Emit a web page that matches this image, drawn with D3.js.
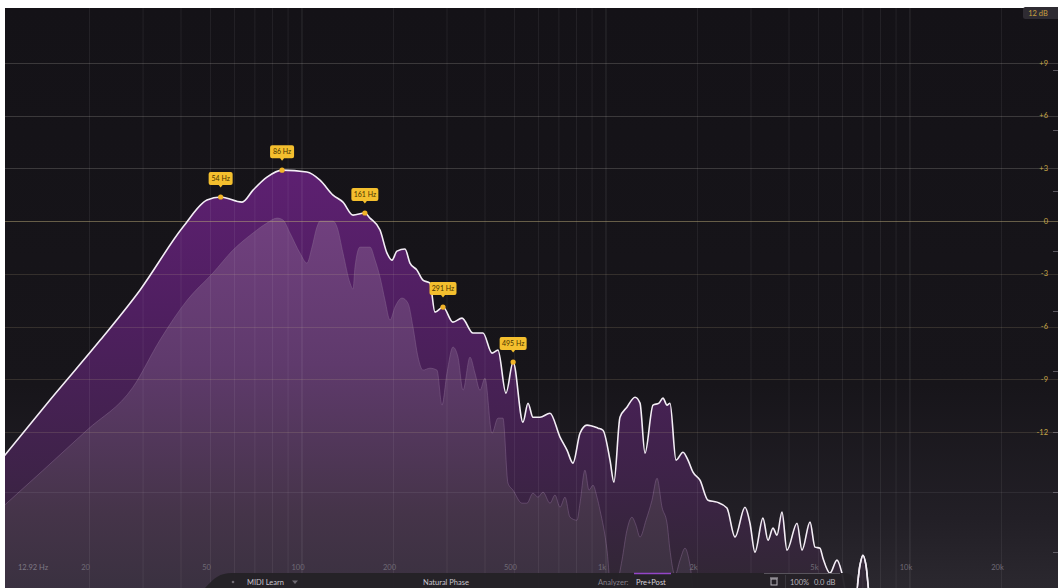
<!DOCTYPE html>
<html>
<head>
<meta charset="utf-8">
<script src="https://cdn.jsdelivr.net/npm/d3@7"></script>
<style>
  html, body { margin: 0; padding: 0; background: #ffffff; }
  svg { display: block; }
  text { font-family: Lato, "Noto Sans", sans-serif; }
</style>
</head>
<body>
<svg id="chart" width="1058" height="588"></svg>
<script>
// ---------- data ----------
// post-EQ spectrum (white outline, dark purple fill): frequency (Hz) / level (dB, right axis)
const postFreq = [10, 14.8, 21.7, 29.3, 40.6, 48.7, 54, 63.5, 69.0, 76.7, 86, 103.8, 114.6, 126.5, 136.4, 147.2, 161, 167.4, 180.6, 190.4, 197.7, 205.3, 218.2, 226.6, 238.9, 250.0, 263.6, 273.8, 291, 313.8, 336.0, 365.2, 393.9, 421.7, 441.3, 468.8, 495, 533.3, 553.9, 575.3, 606.7, 654.4, 706.0, 744.3, 778.8, 821.4, 866.0, 941.2, 977.5, 1031, 1062, 1112, 1172, 1246, 1294, 1344, 1428, 1494, 1540, 1588, 1624, 1700, 1792, 1861, 1933, 2038, 2166, 2318, 2500, 2657, 2866, 2977, 3091, 3284, 3412, 3543, 3652, 3793, 3939, 4251, 4414, 4690, 4870, 5057, 5174, 5456, 5754, 5974, 6158, 6594, 6847, 7004, 7166, 7388, 9000, 30000];
const postDb   = [-13.8, -10.19, -6.77, -3.93, -0.34, 1.20, 1.37, 1.08, 1.76, 2.50, 2.90, 2.79, 2.33, 1.48, 1.08, 0.34, 0.46, 0.17, -0.51, -1.82, -2.22, -1.71, -1.59, -2.39, -2.79, -3.36, -3.53, -5.18, -4.89, -5.75, -5.52, -6.37, -6.37, -7.51, -7.34, -9.79, -8.02, -11.44, -10.36, -11.16, -11.16, -10.93, -12.29, -13.03, -13.77, -12.07, -11.61, -11.78, -11.90, -13.60, -14.85, -11.16, -10.59, -10.02, -10.36, -13.20, -10.47, -10.36, -10.07, -10.47, -10.36, -13.60, -13.15, -13.60, -14.29, -14.74, -15.88, -15.99, -16.33, -17.98, -16.28, -17.19, -18.84, -16.90, -18.16, -17.47, -17.87, -16.56, -18.72, -17.19, -18.72, -17.13, -18.55, -18.61, -19.18, -20.03, -19.29, -20.03, -21.12, -21.57, -19.58, -19.01, -19.58, -21.57, -23.5, -24.5];

// pre-EQ spectrum (lighter purple fill)
const preFreq = [10, 19.6, 27.8, 34.1, 41.9, 50.9, 59.3, 69.0, 76.7, 82.8, 86.6, 91.3, 98.5, 103.8, 107.9, 112.0, 114.6, 126.5, 130.4, 136.4, 143.9, 147.2, 149.4, 155.2, 167.4, 173.9, 180.6, 187.5, 194.8, 202.3, 213.3, 223.2, 231.8, 240.8, 250.0, 263.6, 278.0, 288.7, 299.9, 313.8, 326.0, 338.6, 357.0, 370.7, 385.1, 399.9, 421.7, 441.3, 458.3, 476.0, 494.5, 529.3, 549.6, 575.3, 597.5, 620.7, 654.4, 679.5, 706.0, 733.2, 761.5, 803.0, 821.4, 852.9, 879.3, 906.3, 934.3, 955.8, 1008, 1046, 1129, 1172, 1217, 1255, 1294, 1354, 1417, 1472, 1529, 1588, 1624, 1687, 1752, 1820, 1890, 1963, 30000];
const preDb   = [-16.5, -11.90, -9.45, -6.77, -4.50, -2.96, -1.65, -0.68, -0.11, 0.17, 0.06, -0.68, -1.82, -2.39, -1.48, -0.34, 0, 0, -0.34, -1.82, -3.53, -3.87, -2.62, -1.48, -1.48, -2.22, -3.19, -4.50, -5.63, -4.89, -4.38, -4.67, -6.03, -7.74, -8.48, -8.37, -8.48, -10.47, -8.65, -7.17, -7.74, -9.62, -7.74, -8.65, -9.62, -8.94, -12.07, -11.21, -11.21, -14.91, -15.31, -16.05, -16.05, -15.48, -15.71, -15.42, -16.05, -15.59, -16.28, -15.71, -16.85, -17.02, -16.05, -14.17, -15.31, -15.03, -15.71, -16.45, -18.73, -21.57, -19.29, -17.59, -16.85, -17.30, -17.98, -17.02, -15.88, -14.63, -16.28, -17.19, -18.73, -20.15, -19.29, -18.61, -19.58, -21.57, -24.5];

// grabbed peaks
const peakFreq   = [54, 86, 161, 291, 495];
const peakDb     = [1.37, 2.90, 0.46, -4.89, -8.02];
const peakLabels = ["54 Hz", "86 Hz", "161 Hz", "291 Hz", "495 Hz"];

// axes
const gainTicks  = [9, 6, 3, 0, -3, -6, -9, -12];
const gainLabels = ["+9", "+6", "+3", "0", "-3", "-6", "-9", "-12"];
const freqTicks  = [20, 50, 100, 200, 500, 1000, 2000, 5000, 10000, 20000];
const freqLabels = ["20", "50", "100", "200", "500", "1k", "2k", "5k", "10k", "20k"];
const gridFreqs  = [20, 30, 40, 50, 60, 70, 80, 90, 100, 200, 300, 400, 500, 600, 700, 800, 900,
                    1000, 2000, 3000, 4000, 5000, 6000, 7000, 8000, 9000, 10000, 20000];
const analyzerTicks = [-10, -20, -30, -40, -50, -60, -70, -80, -90];

// ---------- layout ----------
const W = 1058, H = 588;
const plot = { x0: 5, y0: 8, x1: 1058, y1: 588 };

const svg = d3.select("#chart");
const x = d3.scaleLog().domain([10, 30000]).range([-2, 1055]);
const y = d3.scaleLinear().domain([12, -12]).range([10.2, 432]);
const ya = d3.scaleLinear().domain([0, -90]).range([10, 552]);

const defs = svg.append("defs");
defs.append("clipPath").attr("id", "plotClip").append("rect")
  .attr("x", plot.x0).attr("y", plot.y0).attr("width", plot.x1 - plot.x0).attr("height", plot.y1 - plot.y0);

function vGrad(id, stops, y1, y2) {
  const g = defs.append("linearGradient").attr("id", id)
    .attr("gradientUnits", "userSpaceOnUse").attr("x1", 0).attr("x2", 0).attr("y1", y1).attr("y2", y2);
  stops.forEach(s => g.append("stop").attr("offset", s[0]).attr("stop-color", s[1]));
}
vGrad("bgGrad", [[0, "#141217"], [0.65, "#17151a"], [0.88, "#221f26"], [1, "#2b282f"]], plot.y0, plot.y1);
vGrad("postGrad", [[0, "#5e2072"], [0.35, "#4f1f60"], [0.75, "#3d2347"], [1, "#302733"]], 165, plot.y1);
vGrad("preGrad", [[0, "#71407f"], [0.4, "#5f3a6c"], [0.8, "#453449"], [1, "#3a3140"]], 215, plot.y1);

// background
svg.append("rect").attr("x", plot.x0).attr("y", plot.y0)
  .attr("width", plot.x1 - plot.x0).attr("height", plot.y1 - plot.y0)
  .attr("fill", "url(#bgGrad)");

const g = svg.append("g").attr("clip-path", "url(#plotClip)");

// spectra fills
const postData = postFreq.map((f, i) => [f, postDb[i]]);
const preData = preFreq.map((f, i) => [f, preDb[i]]);

const area = d3.area().curve(d3.curveMonotoneX)
  .x(d => x(d[0])).y0(plot.y1 + 5).y1(d => y(d[1]));
const line = d3.line().curve(d3.curveMonotoneX)
  .x(d => x(d[0])).y(d => y(d[1]));

g.append("path").datum(postData).attr("d", area).attr("fill", "url(#postGrad)");
g.append("path").datum(preData).attr("d", area).attr("fill", "url(#preGrad)");
g.append("path").datum(preData).attr("d", line).attr("fill", "none")
  .attr("stroke", "#8a6a92").attr("stroke-opacity", 0.45).attr("stroke-width", 1);

// vertical grid
g.selectAll("line.vg").data(gridFreqs).join("line").attr("class", "vg")
  .attr("x1", d => x(d)).attr("x2", d => x(d))
  .attr("y1", plot.y0).attr("y2", plot.y1)
  .attr("stroke", "#ffffff")
  .attr("stroke-opacity", d => [100, 1000, 10000].includes(d) ? 0.11 : 0.065)
  .attr("stroke-width", 1);

// horizontal gain grid
g.selectAll("line.hg").data(gainTicks).join("line").attr("class", "hg")
  .attr("x1", plot.x0).attr("x2", plot.x1)
  .attr("y1", d => Math.round(y(d)) + 0.5).attr("y2", d => Math.round(y(d)) + 0.5)
  .attr("stroke", d => d === 0 ? "#b8a878" : (d > 0 ? "#d8d0c8" : "#c8b890"))
  .attr("stroke-opacity", d => d === 0 ? 0.5 : (d > 0 ? 0.2 : 0.17))
  .attr("stroke-width", 1);

// faint analyzer line
g.append("line")
  .attr("x1", plot.x0).attr("x2", plot.x1)
  .attr("y1", Math.round(ya(-80)) + 0.5).attr("y2", Math.round(ya(-80)) + 0.5)
  .attr("stroke", "#ffffff").attr("stroke-opacity", 0.07);

// analyzer ticks at right edge
g.selectAll("line.at").data(analyzerTicks).join("line").attr("class", "at")
  .attr("x1", 1053).attr("x2", 1058)
  .attr("y1", d => Math.round(ya(d)) + 0.5).attr("y2", d => Math.round(ya(d)) + 0.5)
  .attr("stroke", "#8a8590").attr("stroke-opacity", 0.6);

// post line
g.append("path").datum(postData).attr("d", line).attr("fill", "none")
  .attr("stroke", "#f4eef6").attr("stroke-width", 1.6).attr("stroke-linejoin", "round");

// gain labels
svg.selectAll("text.gl").data(gainTicks).join("text").attr("class", "gl")
  .attr("x", 1048).attr("y", d => y(d)).attr("dy", "0.35em")
  .attr("text-anchor", "end").attr("font-size", 7.5)
  .attr("fill", "#c9a848")
  .text((d, i) => gainLabels[i]);

// 12 dB range box
svg.append("rect").attr("x", 1023).attr("y", 7).attr("width", 40).attr("height", 12).attr("rx", 2.5)
  .attr("fill", "#2e2b32");
svg.append("text").attr("x", 1038).attr("y", 13).attr("dy", "0.35em")
  .attr("text-anchor", "middle").attr("font-size", 7.5).attr("fill", "#c9a040").text("12 dB");

// frequency labels
svg.append("text").attr("x", 18).attr("y", 567).attr("dy", "0.35em")
  .attr("font-size", 7.5).attr("fill", "#7e7984").text("12.92 Hz");
svg.selectAll("text.fl").data(freqTicks).join("text").attr("class", "fl")
  .attr("x", d => x(d) - 4).attr("y", 567).attr("dy", "0.35em")
  .attr("text-anchor", "middle").attr("font-size", 7.5).attr("fill", "#6f6a75")
  .text((d, i) => freqLabels[i]);

// bottom control bar
const bar = svg.append("g");
bar.append("path")
  .attr("d", "M 205 588 C 214 578, 220 573, 232 573 L 845 573 C 852 573, 855 580, 858 588 Z")
  .attr("fill", "#242127").attr("fill-opacity", 0.96);
bar.append("line").attr("x1", 764).attr("x2", 840).attr("y1", 573.5).attr("y2", 573.5)
  .attr("stroke", "#58545c").attr("stroke-width", 1);
bar.append("line").attr("x1", 634).attr("x2", 671).attr("y1", 573.5).attr("y2", 573.5)
  .attr("stroke", "#9446c8").attr("stroke-width", 1.5);
bar.append("circle").attr("cx", 233).attr("cy", 582).attr("r", 1.3).attr("fill", "#6e6a72");
bar.append("text").attr("x", 247).attr("y", 582).attr("dy", "0.35em")
  .attr("font-size", 7.5).attr("fill", "#c9c5cd").text("MIDI Learn");
bar.append("path").attr("d", "M 292 580.5 L 298 580.5 L 295 584 Z").attr("fill", "#6e6a72");
bar.append("text").attr("x", 446).attr("y", 582).attr("dy", "0.35em").attr("text-anchor", "middle")
  .attr("font-size", 7.5).attr("fill", "#c9c5cd").text("Natural Phase");
bar.append("text").attr("x", 598).attr("y", 582).attr("dy", "0.35em")
  .attr("font-size", 7.5).attr("fill", "#85808a").text("Analyzer:");
bar.append("text").attr("x", 636).attr("y", 582).attr("dy", "0.35em")
  .attr("font-size", 7.5).attr("fill", "#d4d0d8").text("Pre+Post");
// small icon
bar.append("rect").attr("x", 771).attr("y", 579).attr("width", 6).attr("height", 6)
  .attr("fill", "none").attr("stroke", "#b8b4bc").attr("stroke-width", 1);
bar.append("line").attr("x1", 770).attr("x2", 778).attr("y1", 578).attr("y2", 578)
  .attr("stroke", "#b8b4bc").attr("stroke-width", 1);
bar.append("line").attr("x1", 785.5).attr("x2", 785.5).attr("y1", 575).attr("y2", 588)
  .attr("stroke", "#3a373e");
bar.append("text").attr("x", 790).attr("y", 582).attr("dy", "0.35em")
  .attr("font-size", 7.5).attr("fill", "#b8b4bc").text("100%");
bar.append("text").attr("x", 814).attr("y", 582).attr("dy", "0.35em")
  .attr("font-size", 7.5).attr("fill", "#b8b4bc").text("0.0 dB");

// spike that sits outside the bar (re-draw the post line over the bar, clipped to the right of it)
defs.append("clipPath").attr("id", "rightClip").append("rect")
  .attr("x", 856).attr("y", plot.y0).attr("width", 202).attr("height", plot.y1 - plot.y0);
svg.append("path").datum(postData).attr("d", line).attr("fill", "none")
  .attr("clip-path", "url(#rightClip)")
  .attr("stroke", "#f4eef6").attr("stroke-width", 1.6);

// peak markers
const pk = svg.append("g").selectAll("g").data(peakFreq).join("g")
  .attr("transform", (d, i) => `translate(${x(d)},${y(peakDb[i])})`);
pk.append("circle").attr("r", 2.6).attr("fill", "#f2b428");
pk.each(function (d, i) {
  const s = d3.select(this);
  const w = peakLabels[i].length > 5 ? 27 : 24;
  s.append("path")
    .attr("d", `M ${-w / 2} -23 Q ${-w / 2} -25 ${-w / 2 + 2} -25 L ${w / 2 - 2} -25 Q ${w / 2} -25 ${w / 2} -23 L ${w / 2} -14 Q ${w / 2} -12 ${w / 2 - 2} -12 L 2 -12 L 0 -9.5 L -2 -12 L ${-w / 2 + 2} -12 Q ${-w / 2} -12 ${-w / 2} -14 Z`)
    .attr("fill", "#f4bf2e");
  s.append("text").attr("x", 0).attr("y", -18.5).attr("dy", "0.35em")
    .attr("text-anchor", "middle").attr("font-size", 7).attr("fill", "#4a3300")
    .text(peakLabels[i]);
});
</script>
</body>
</html>
